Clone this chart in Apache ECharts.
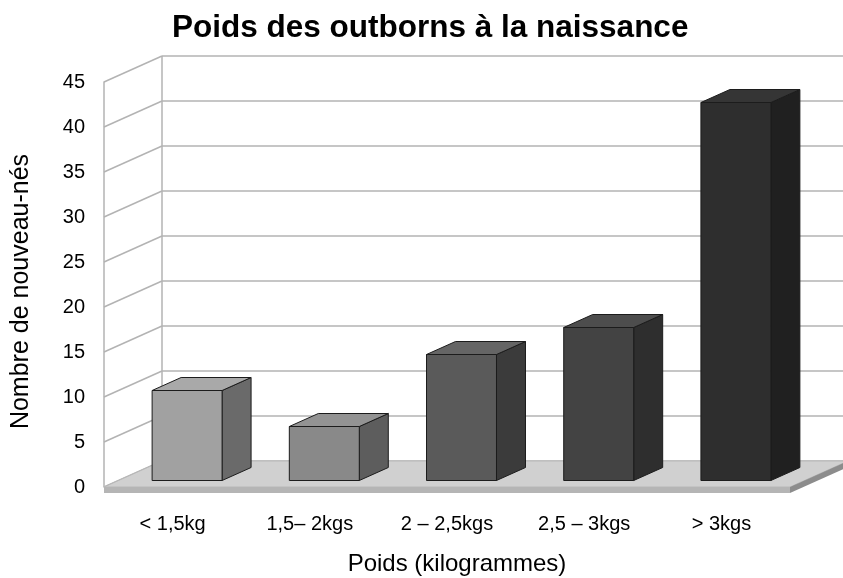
<!DOCTYPE html>
<html>
<head>
<meta charset="utf-8">
<title>Poids des outborns à la naissance</title>
<script src="https://cdn.jsdelivr.net/npm/echarts@6/dist/echarts.min.js"></script>
<style>
  html, body { margin: 0; padding: 0; background: #fff; }
  #chart { width: 843px; height: 578px; }
</style>
</head>
<body>
<div id="chart"></div>
<script>
// données
const categories = ['< 1,5kg', '1,5– 2kgs', '2 – 2,5kgs', '2,5 – 3kgs', '> 3kgs'];
const counts = [10, 6, 14, 17, 42];
const yTicks = [0, 5, 10, 15, 20, 25, 30, 35, 40, 45];

// couleurs des faces (avant / dessus / côté)
const frontColors = ['#a1a1a1', '#898989', '#5a5a5a', '#434343', '#2e2e2e'];
const topColors = ['#a9a9a9', '#939393', '#656565', '#4d4d4d', '#353535'];
const sideColors = ['#6a6a6a', '#5d5d5d', '#3b3b3b', '#2e2e2e', '#202020'];

const FONT = 'Liberation Sans, Arial, sans-serif';
const DX = 58, DY = -26;      // profondeur du plan 3D
const FLOOR_H = 6;
const WALL_LINE = '#b3b3b3';

const chart = echarts.init(document.getElementById('chart'));

// murs : lignes de grille sur le mur gauche et le mur du fond
function renderWalls(params, api) {
  const cs = params.coordSys;
  const y = api.coord([0, api.value(1)])[1];
  const style = { stroke: WALL_LINE, lineWidth: 1.5, fill: null };
  return {
    type: 'group',
    children: [
      { type: 'line', shape: { x1: cs.x, y1: y, x2: cs.x + DX, y2: y + DY }, style: style },
      { type: 'line', shape: { x1: cs.x + DX, y1: y + DY, x2: cs.x + cs.width + DX, y2: y + DY }, style: style }
    ]
  };
}

// plancher + arête verticale du fond
function renderFloor(params, api) {
  const cs = params.coordSys;
  const y0 = api.coord([0, yTicks[0]])[1];
  const yTop = api.coord([0, yTicks[yTicks.length - 1]])[1];
  const l = cs.x, r = cs.x + cs.width;
  return {
    type: 'group',
    children: [
      { type: 'line', shape: { x1: l + DX, y1: yTop + DY, x2: l + DX, y2: y0 + DY },
        style: { stroke: WALL_LINE, lineWidth: 1.5 } },
      { type: 'polygon', shape: { points: [[l, y0], [r, y0], [r + DX, y0 + DY], [l + DX, y0 + DY]] },
        style: { fill: '#d0d0d0', stroke: '#b8b8b8', lineWidth: 1 } },
      { type: 'rect', shape: { x: l, y: y0, width: r - l, height: FLOOR_H },
        style: { fill: '#b5b5b5' } },
      { type: 'polygon', shape: { points: [[r, y0], [r + DX, y0 + DY], [r + DX, y0 + DY + FLOOR_H], [r, y0 + FLOOR_H]] },
        style: { fill: '#8c8c8c' } }
    ]
  };
}

// barres 3D
function renderBar(params, api) {
  const i = params.dataIndex;
  const base = api.coord([api.value(0), 0]);
  const top = api.coord([api.value(0), api.value(1)]);
  const bw = api.size([1, 0])[0] * 0.51;
  const fx = DX * 0.25, fy = DY * 0.25;
  const dx = DX * 0.5, dy = DY * 0.5;
  const x0 = base[0] - bw / 2 + fx, x1 = x0 + bw;
  const yb = base[1] + fy, yt = top[1] + fy;
  const edge = { stroke: '#1c1c1c', lineWidth: 1, lineJoin: 'round' };
  return {
    type: 'group',
    children: [
      { type: 'polygon', shape: { points: [[x1, yt], [x1 + dx, yt + dy], [x1 + dx, yb + dy], [x1, yb]] },
        style: Object.assign({ fill: sideColors[i] }, edge) },
      { type: 'polygon', shape: { points: [[x0, yt], [x1, yt], [x1 + dx, yt + dy], [x0 + dx, yt + dy]] },
        style: Object.assign({ fill: topColors[i] }, edge) },
      { type: 'rect', shape: { x: x0, y: yt, width: bw, height: yb - yt },
        style: Object.assign({ fill: frontColors[i] }, edge) }
    ]
  };
}

const option = {
  backgroundColor: '#ffffff',
  animation: false,
  title: {
    text: 'Poids des outborns à la naissance',
    left: 172,
    top: 12,
    padding: 0,
    textStyle: { fontFamily: FONT, fontSize: 31.5, fontWeight: 'bold', color: '#000' }
  },
  grid: { left: 104, right: 53, top: 82, bottom: 91, containLabel: false, outerBoundsMode: 'none' },
  xAxis: {
    type: 'category',
    data: categories,
    name: 'Poids (kilogrammes)',
    nameLocation: 'middle',
    nameGap: 65,
    nameTextStyle: { fontFamily: FONT, fontSize: 24, color: '#000', padding: [0, 0, 0, 20] },
    axisLine: { show: false },
    axisTick: { show: false },
    splitLine: { show: false },
    axisLabel: { fontFamily: FONT, fontSize: 20, color: '#000', margin: 27, interval: 0 }
  },
  yAxis: {
    type: 'value',
    min: 0,
    max: 45,
    interval: 5,
    name: 'Nombre de nouveau-nés',
    nameLocation: 'middle',
    nameRotate: 90,
    nameGap: 70,
    nameTextStyle: { fontFamily: FONT, fontSize: 25, color: '#000', padding: [0, 14, 0, 0] },
    axisLine: { show: true, lineStyle: { color: WALL_LINE, width: 1.5 } },
    axisTick: { show: false },
    splitLine: { show: false },
    axisLabel: { fontFamily: FONT, fontSize: 20, color: '#000', margin: 19 }
  },
  series: [
    {
      name: 'murs',
      type: 'custom',
      z: 1,
      silent: true,
      clip: false,
      renderItem: renderWalls,
      data: yTicks.map(v => [0, v])
    },
    {
      name: 'plancher',
      type: 'custom',
      z: 2,
      silent: true,
      clip: false,
      renderItem: renderFloor,
      data: [[0, 0]]
    },
    {
      name: 'Nombre de nouveau-nés',
      type: 'custom',
      z: 3,
      clip: false,
      renderItem: renderBar,
      data: counts.map((v, i) => [i, v])
    }
  ]
};

chart.setOption(option);
</script>
</body>
</html>
